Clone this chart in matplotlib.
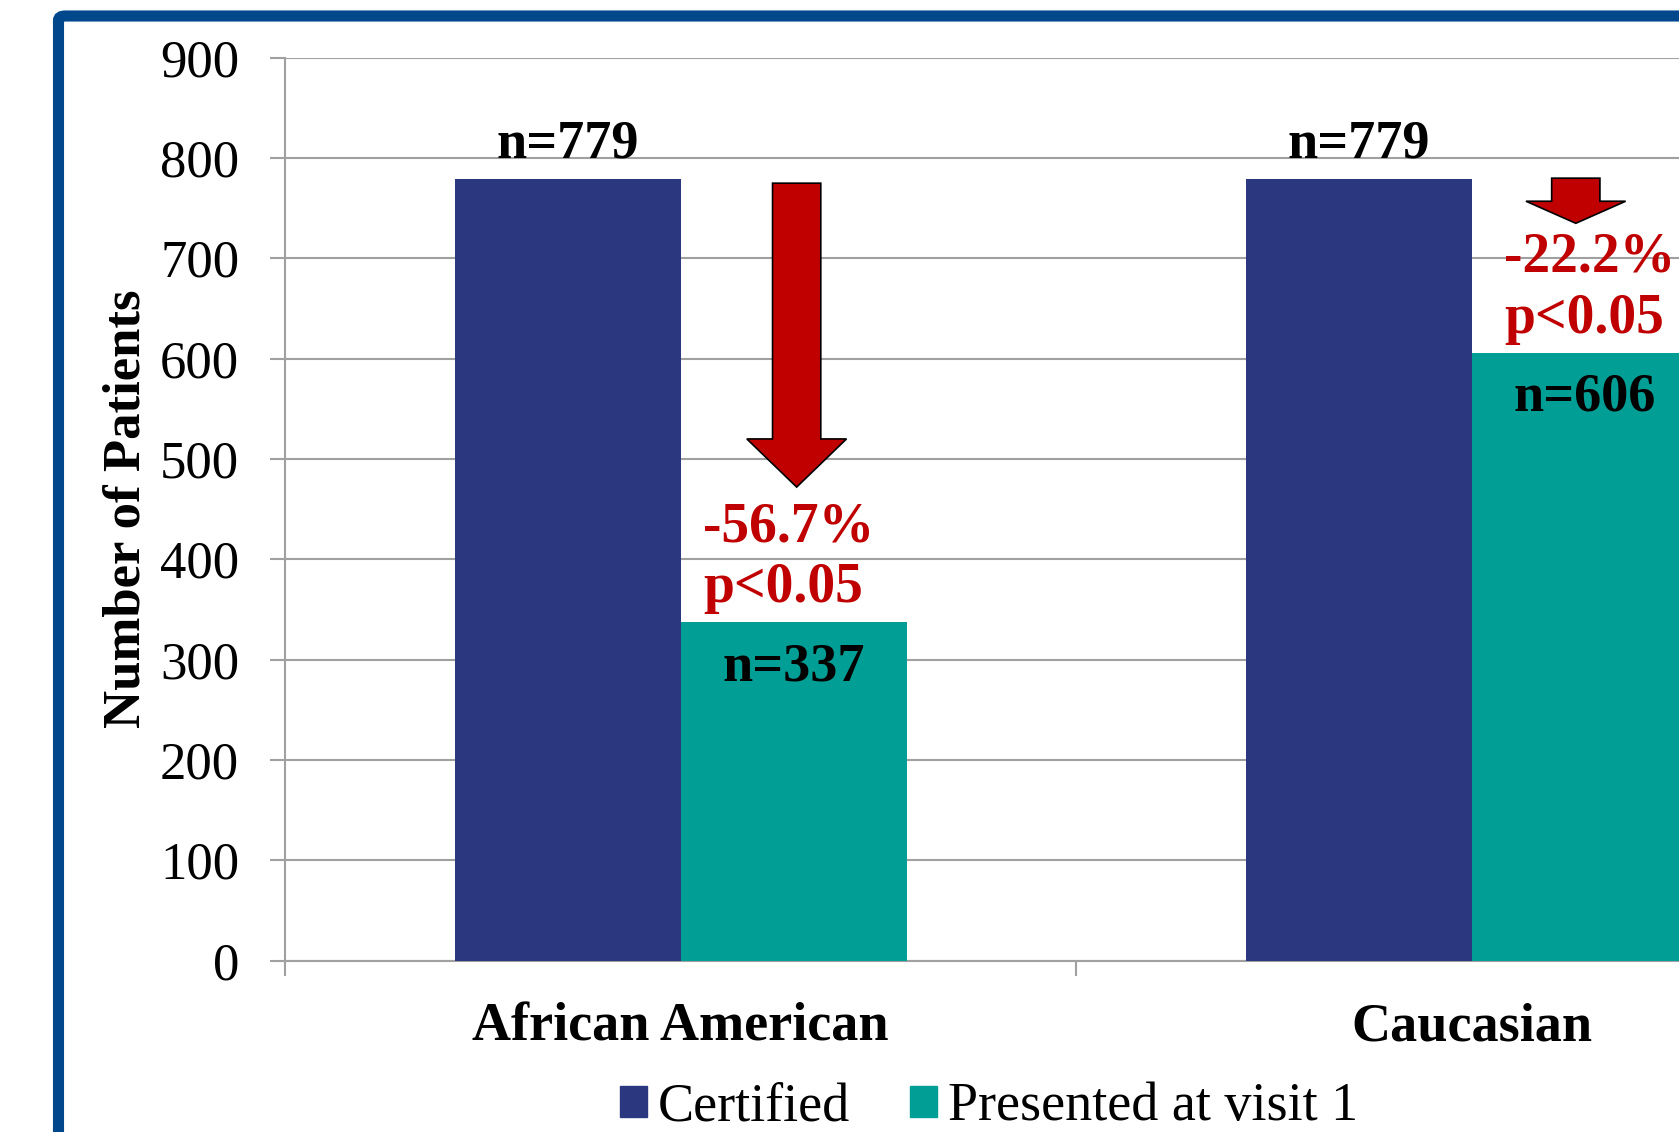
import matplotlib.pyplot as plt
import numpy as np
from matplotlib.patches import FancyArrow, FancyBboxPatch, Patch

plt.rcParams['font.family'] = ['Liberation Serif', 'DejaVu Serif']

# patient counts per group
groups = ['African American', 'Caucasian']
certified = [779, 779]
presented = [337, 606]
series_names = ['Certified', 'Presented at visit 1']
p_text = ['p<0.05', 'p<0.05']

# arrow top / tip (in patients) drawn above the presented bar
arrow_top = [775, 780]
arrow_tip = [472, 735]
arrow_head = [48, 22]
arrow_shift = [0.004, -0.011]
note_shift = [0.029, 0.041]

navy = '#2B387F'
teal = '#009E94'
red = '#C00000'
grid = '#A0A0A0'

fig = plt.figure(figsize=(16.79, 11.32), dpi=100)
ax = fig.add_axes([285 / 1679, 171.5 / 1132, 1582 / 1679, 902.7 / 1132])

x = np.arange(len(groups)) + 0.5
w = 1 / 3.5
b1 = ax.bar(x - w / 2, certified, w, color=navy, zorder=3)
b2 = ax.bar(x + w / 2, presented, w, color=teal, zorder=3)

ax.set_ylim(0, 900)
ax.set_xlim(0, 2)
ax.set_yticks(range(0, 901, 100))
ax.yaxis.grid(True, color=grid, linewidth=1.5, zorder=0)
ax.set_axisbelow(True)

for s in ['top', 'right']:
    ax.spines[s].set_visible(False)
for s in ['left', 'bottom']:
    ax.spines[s].set_color(grid)
    ax.spines[s].set_linewidth(1.5)

# category boundaries as major ticks, names on minor ticks
ax.set_xticks([0, 1, 2])
ax.set_xticklabels([])
ax.set_xticks(x, minor=True)
ax.set_xticklabels(groups, minor=True, fontsize=39, fontweight='bold')
ax.tick_params(axis='x', which='major', length=11, width=1.5, color=grid)
ax.tick_params(axis='x', which='minor', length=0, pad=30)
ax.tick_params(axis='y', length=11, width=1.5, color=grid, labelsize=38, pad=22)

ax.set_ylabel('Number of Patients', fontsize=38, fontweight='bold')
ax.yaxis.set_label_coords(-0.085, 0.5)

for i in range(len(groups)):
    ax.text(x[i] - w / 2, certified[i] + 22, 'n=%d' % certified[i],
            ha='center', va='baseline', fontsize=39, fontweight='bold', zorder=5)
    ax.text(x[i] + w / 2, presented[i] - 20, 'n=%d' % presented[i],
            ha='center', va='top', fontsize=39, fontweight='bold', zorder=5)

    change = (presented[i] - certified[i]) / certified[i] * 100
    ax.text(x[i] + note_shift[i], presented[i] + 81, '%.1f%%' % change,
            ha='left', va='baseline', fontsize=40, fontweight='bold', color=red, zorder=5)
    ax.text(x[i] + note_shift[i], presented[i] + 20, p_text[i],
            ha='left', va='baseline', fontsize=40, fontweight='bold', color=red, zorder=5)

    arr = FancyArrow(x[i] + w / 2 + arrow_shift[i], arrow_top[i], 0, arrow_tip[i] - arrow_top[i],
                     width=0.061, head_width=0.126, head_length=arrow_head[i],
                     length_includes_head=True, facecolor=red, edgecolor='black',
                     linewidth=1.2, zorder=4)
    ax.add_patch(arr)

handles = [Patch(color=navy), Patch(color=teal)]
fig.legend(handles, series_names, loc='center', bbox_to_anchor=(0.589, 0.022),
           ncol=2, frameon=False, fontsize=39, handlelength=0.5, handleheight=0.5,
           handletextpad=0.2, columnspacing=1.1)

# blue slide frame, running off the right and bottom edges
frame = FancyBboxPatch((58.5 / 1679, -0.1), 1.2, 1.1 - 16 / 1132,
                       boxstyle='round,pad=0,rounding_size=0.004',
                       transform=fig.transFigure, facecolor='none',
                       edgecolor='#01478C', linewidth=8, zorder=10)
fig.patches.append(frame)

plt.savefig('out.png', dpi=100)
